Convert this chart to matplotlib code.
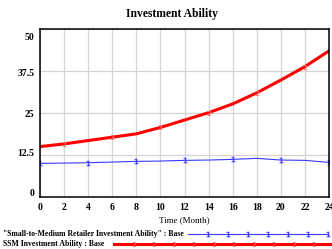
'''Vensim style run chart of investment ability over 24 months'''

import numpy as np
import matplotlib
matplotlib.use('Agg')
import matplotlib.pyplot as plt
from matplotlib.lines import Line2D
from matplotlib.transforms import ScaledTranslation

plt.rcParams['font.family'] = 'Liberation Serif'
plt.rcParams['font.weight'] = 'bold'

# data
months = [0, 2, 4, 6, 8, 10, 12, 14, 16, 18, 20, 22, 24]
retailer_ability = [10.0, 10.1, 10.2, 10.4, 10.6, 10.7, 10.9, 11.0, 11.2, 11.5, 11.0, 10.9, 10.3]
ssm_ability = [15.0, 15.8, 16.8, 17.8, 18.8, 20.7, 22.9, 25.1, 27.7, 31.0, 34.8, 38.8, 43.5]

x_ticks = [0, 2, 4, 6, 8, 10, 12, 14, 16, 18, 20, 22, 24]
y_ticks = [0, 12.5, 25, 37.5, 50]
y_labels = ['0', '12.5', '25', '37.5', '50']

blue = '#3a3aff'
red = '#ff0000'
red_mark = '#ff7070'

fig = plt.figure(figsize=(3.32, 2.49), dpi=100)
ax = fig.add_axes([40/332, 1-197/249, 289/332, 168/249])

ax.plot(months, retailer_ability, color=blue, lw=0.8,
        marker='$1$', markersize=4, markevery=(0, 2), markeredgewidth=0)
ax.plot(months, ssm_ability, color=red, lw=2.2,
        marker='$2$', markersize=3.5, markevery=(1, 2), markeredgewidth=0,
        markerfacecolor=red_mark)

ax.set_xlim(0, 24)
ax.set_ylim(0, 50)
ax.set_xticks(x_ticks)
ax.set_yticks(y_ticks)
ax.set_yticklabels(y_labels)
ax.tick_params(length=0, labelsize=7, pad=4)
ax.grid(True, color='#d4d4d4', lw=0.9)
ax.set_axisbelow(True)
for s in ax.spines.values():
    s.set_linewidth(1.1)

# vensim squeezes the y labels a little toward the middle
shifts = [5, 2.5, 0, -1, -7]
for lab, dy in zip(ax.get_yticklabels(), shifts):
    lab.set_transform(lab.get_transform() + ScaledTranslation(0, dy/100, fig.dpi_scale_trans))

ax.set_xlabel('Time (Month)', fontsize=6.5, labelpad=3)
fig.text(172.5/332, 1-14/249, 'Investment Ability', fontsize=8.4, ha='center', va='center')

# legend, text left and line to the right
fig.text(3/332, 1-234/249, '"Small-to-Medium Retailer Investment Ability" : Base',
         fontsize=5.6, va='center', ha='left')
fig.text(3/332, 1-244/249, 'SSM Investment Ability : Base',
         fontsize=5.6, va='center', ha='left')

lx1 = np.linspace(188, 328, 8)
fig.add_artist(Line2D(lx1/332, [1-234/249]*len(lx1), color=blue, lw=0.8,
                      marker='$1$', markersize=4, markevery=(1, 1), markeredgewidth=0))
lx2 = np.linspace(114, 334, 12)
fig.add_artist(Line2D(lx2/332, [1-244/249]*len(lx2), color=red, lw=2.2,
                      marker='$2$', markersize=3.5, markevery=(1, 1), markeredgewidth=0,
                      markerfacecolor=red_mark))

fig.savefig('out.png', dpi=100)
